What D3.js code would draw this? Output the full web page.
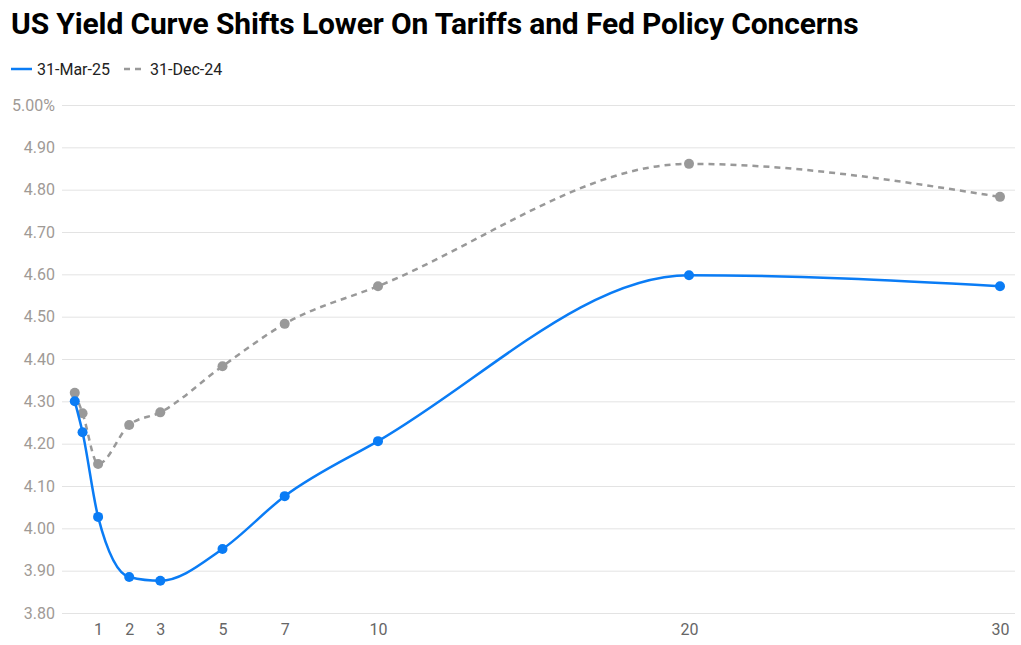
<!DOCTYPE html>
<html><head><meta charset="utf-8">
<script src="https://cdn.jsdelivr.net/npm/d3@7"></script>
<style>body{margin:0;background:#fff;font-family:Roboto,sans-serif;}</style>
</head><body><svg id="c" width="1021" height="645"></svg>
<script>
const maturities = [0.25, 0.5, 1, 2, 3, 5, 7, 10, 20, 30];
const mar25 = [4.30, 4.227, 4.027, 3.885, 3.876, 3.951, 4.076, 4.206, 4.598, 4.572];
const dec24 = [4.32, 4.272, 4.152, 4.244, 4.274, 4.383, 4.483, 4.572, 4.861, 4.783];
const xTicks = [1, 2, 3, 5, 7, 10, 20, 30];
const yTicks = [3.8, 3.9, 4.0, 4.1, 4.2, 4.3, 4.4, 4.5, 4.6, 4.7, 4.8, 4.9, 5.0];
const seriesNames = ["31-Mar-25", "31-Dec-24"];
const colors = ["#0a7cf5", "#999999"];

const svg = d3.select("#c");
const x = d3.scaleLinear().domain([0, 30]).range([67, 1000]);
const y = d3.scaleLinear().domain([3.8, 5.0]).range([613, 105]);

svg.append("text").attr("x", 11).attr("y", 34).attr("font-size", 30).attr("font-weight", "bold")
  .attr("fill", "#000").attr("letter-spacing", -0.14).text("US Yield Curve Shifts Lower On Tariffs and Fed Policy Concerns");

// legend
const lg = svg.append("g");
lg.append("line").attr("x1", 11).attr("x2", 32).attr("y1", 69).attr("y2", 69).attr("stroke", colors[0]).attr("stroke-width", 2.5);
lg.append("text").attr("x", 37).attr("y", 75).attr("font-size", 16).attr("fill", "#222").text(seriesNames[0]);
lg.append("line").attr("x1", 124).attr("x2", 145).attr("y1", 69).attr("y2", 69).attr("stroke", colors[1]).attr("stroke-width", 2.5).attr("stroke-dasharray", "6,5");
lg.append("text").attr("x", 150).attr("y", 75).attr("font-size", 16).attr("fill", "#222").text(seriesNames[1]);

// grid
const yAxis = d3.axisLeft(y).tickValues(yTicks).tickSize(-(1015 - 62)).tickPadding(7)
  .tickFormat(d => d === 5 ? "5.00%" : d.toFixed(2));
const gy = svg.append("g").attr("transform", "translate(62,0)").call(yAxis);
gy.select(".domain").remove();
gy.selectAll(".tick line").attr("stroke", "#e3e3e3").attr("stroke-width", 1);
gy.selectAll(".tick text").attr("font-size", 16).attr("fill", "#a09a96").attr("font-family", "Roboto, sans-serif");

const xAxis = d3.axisBottom(x).tickValues(xTicks).tickSize(0).tickPadding(11).tickFormat(d3.format("d"));
const gx = svg.append("g").attr("transform", "translate(0,613)").call(xAxis);
gx.select(".domain").remove();
gx.selectAll(".tick text").attr("font-size", 16).attr("fill", "#666").attr("font-family", "Roboto, sans-serif");

const line = d3.line().x(d => x(d[0])).y(d => y(d[1])).curve(d3.curveMonotoneX);
const dDec = maturities.map((m, i) => [m, dec24[i]]);
const dMar = maturities.map((m, i) => [m, mar25[i]]);

svg.append("path").datum(dDec).attr("d", line).attr("fill", "none").attr("stroke", colors[1])
  .attr("stroke-width", 2.5).attr("stroke-dasharray", "6,5");
svg.selectAll(".pd").data(dDec).enter().append("circle").attr("cx", d => x(d[0])).attr("cy", d => y(d[1]))
  .attr("r", 5).attr("fill", colors[1]);

svg.append("path").datum(dMar).attr("d", line).attr("fill", "none").attr("stroke", colors[0]).attr("stroke-width", 2.5);
svg.selectAll(".pm").data(dMar).enter().append("circle").attr("cx", d => x(d[0])).attr("cy", d => y(d[1]))
  .attr("r", 5).attr("fill", colors[0]);
</script></body></html>
